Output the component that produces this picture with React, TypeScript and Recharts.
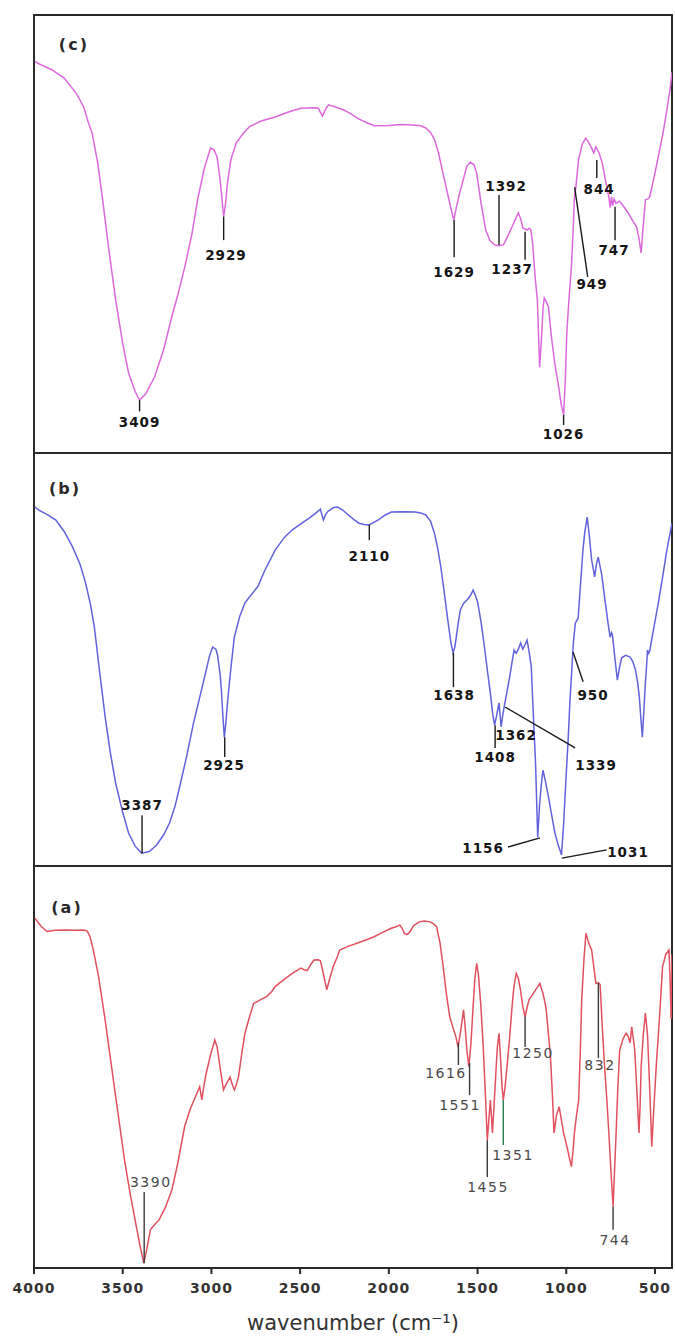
import React from 'react';
import { LineChart, Line, XAxis, YAxis, ReferenceArea, ReferenceLine, ReferenceDot } from 'recharts';

// ---------- data (wavenumber cm-1, relative transmittance %) ----------
type Pt = [number, number];

const WN_MIN = 404;
const WN_MAX = 4000;
const xTicks = [4000, 3500, 3000, 2500, 2000, 1500, 1000, 500];
const xAxisTitle = 'wavenumber (cm⁻¹)';

const spectrumC: Pt[] = [
  [3995, 89.5], [3980, 89], [3900, 87.5], [3830, 85.6], [3760, 82], [3720, 79], [3690, 75], [3672, 73], [3640, 66],
  [3613, 57.8], [3580, 47], [3540, 35], [3500, 25], [3467, 18.3], [3430, 14], [3405, 12.1], [3370, 13.5], [3320, 17.4],
  [3270, 23.5], [3224, 31], [3190, 36], [3150, 42.5], [3110, 50], [3078, 57.8], [3040, 65], [3005, 69.6], [2985, 69.2],
  [2968, 67.6], [2950, 62], [2931, 54], [2920, 57], [2910, 61.6], [2890, 67], [2860, 70.8], [2820, 73], [2785, 74.5],
  [2720, 75.8], [2641, 76.7], [2570, 77.8], [2497, 78.7], [2420, 78.8], [2398, 78.7], [2374, 76.9], [2355, 78.6],
  [2340, 79.5], [2300, 79], [2254, 78.3], [2215, 77.5], [2180, 76.5], [2130, 75.5], [2083, 74.7], [2000, 74.8],
  [1930, 75], [1865, 74.9], [1820, 74.7], [1792, 74.2], [1765, 73.2], [1742, 71.5], [1720, 68.5], [1695, 63.9],
  [1665, 58.5], [1645, 55], [1634, 53.2], [1620, 56], [1600, 59.5], [1580, 62.5], [1560, 65.5], [1540, 66.4],
  [1520, 65.8], [1505, 63.9], [1480, 57], [1454, 50.9], [1430, 48.5], [1403, 47.5], [1380, 47.3], [1354, 47.5],
  [1330, 49.5], [1306, 51.6], [1285, 53.5], [1270, 54.8], [1257, 53.5], [1245, 51.4], [1235, 51.2], [1220, 50.9],
  [1210, 51.3], [1200, 51], [1190, 48], [1175, 40], [1163, 35], [1150, 19.6], [1140, 26], [1130, 33.5], [1124, 35.4],
  [1112, 34.5], [1100, 33.3], [1085, 27], [1065, 20.5], [1040, 14.4], [1028, 11], [1015, 8.7], [1006, 16], [997, 27.4],
  [985, 35], [971, 42.5], [960, 52], [954, 58.4], [945, 61], [931, 66.9], [910, 70.5], [890, 71.9], [875, 71],
  [857, 69.6], [845, 68.5], [833, 69.9], [815, 68.5], [797, 66.2], [780, 62.5], [760, 58.4], [752, 56], [745, 58.5],
  [738, 56.5], [730, 58], [720, 57], [700, 57.5], [680, 56.5], [651, 54.8], [625, 53], [603, 51.6], [590, 49],
  [578, 45.7], [570, 50], [554, 57.8], [540, 58], [530, 58.4], [505, 63], [481, 67.6], [455, 73], [433, 78.3],
  [415, 83], [404, 87],
];

const spectrumB: Pt[] = [
  [3995, 87], [3975, 86.2], [3930, 85.2], [3878, 83.8], [3830, 81], [3782, 77.2], [3740, 73], [3709, 68.5], [3680, 63],
  [3660, 57.9], [3630, 47], [3599, 36.1], [3570, 27.5], [3540, 20.1], [3500, 13], [3467, 8], [3430, 4.8], [3393, 3.1],
  [3350, 3.5], [3309, 5.1], [3270, 7.5], [3236, 10.4], [3205, 14.5], [3174, 20.1], [3140, 26.5], [3101, 34.6],
  [3065, 41], [3029, 47.5], [3010, 51], [2993, 53], [2975, 52.5], [2965, 51], [2950, 46], [2944, 42.6], [2935, 36],
  [2927, 31.2], [2918, 35], [2908, 40.2], [2890, 48], [2871, 55.4], [2840, 60.5], [2811, 63.7], [2770, 66],
  [2739, 67.6], [2700, 71.5], [2641, 76.5], [2590, 79.5], [2544, 81.4], [2490, 83], [2447, 84.3], [2410, 85.5],
  [2386, 86.4], [2369, 83.8], [2355, 85.2], [2340, 86], [2310, 86.8], [2289, 86.9], [2260, 86.2], [2228, 85],
  [2195, 83.8], [2168, 83], [2140, 82.7], [2112, 82.6], [2085, 83.2], [2059, 83.8], [2020, 85], [1986, 85.7],
  [1920, 85.8], [1852, 85.7], [1820, 85.5], [1792, 85], [1765, 83.5], [1743, 80.6], [1725, 77], [1707, 72.4],
  [1690, 67], [1670, 60.3], [1650, 54], [1638, 51.6], [1628, 53], [1620, 55.4], [1610, 58.5], [1597, 62],
  [1580, 63.5], [1560, 64.4], [1540, 65.5], [1525, 66.8], [1512, 65.5], [1500, 64], [1480, 59], [1464, 54],
  [1445, 47.5], [1428, 41.9], [1415, 37], [1404, 34.1], [1392, 36.5], [1379, 39.5], [1367, 33.7], [1358, 36.5],
  [1350, 38.5], [1335, 42], [1319, 45.8], [1305, 49.5], [1294, 52.3], [1282, 51.5], [1270, 52.5], [1257, 54],
  [1245, 52.5], [1233, 53.5], [1221, 54.7], [1210, 52], [1197, 48.2], [1185, 36], [1173, 24.9], [1161, 7],
  [1150, 15], [1140, 20], [1131, 23.2], [1115, 20], [1100, 16.7], [1085, 13], [1064, 8], [1045, 5], [1027, 2.7],
  [1015, 10], [1003, 20.1], [990, 30], [979, 40.2], [968, 48], [960, 54], [949, 58.8], [933, 60], [920, 68],
  [906, 76.5], [895, 81], [882, 84.5], [870, 80], [857, 74.1], [848, 72], [840, 70], [830, 73], [820, 74.8],
  [800, 70.5], [784, 65.1], [765, 59], [753, 55.4], [745, 56.5], [740, 56], [725, 50], [712, 45], [700, 48],
  [688, 50.4], [665, 51], [640, 50.6], [625, 49.5], [610, 47.5], [598, 44.5], [588, 40.9], [580, 36], [571, 31.2],
  [562, 38], [554, 44.3], [548, 48], [542, 52.3], [536, 51.5], [530, 52], [505, 58], [481, 63.7], [455, 70.5],
  [433, 76.5], [415, 80.5], [404, 83],
];

const spectrumA: Pt[] = [
  [3995, 87], [3988, 86.6], [3960, 85], [3927, 83.7], [3880, 84], [3830, 84.1], [3770, 84], [3720, 84.1], [3700, 83.8],
  [3684, 82.4], [3665, 79], [3636, 72.5], [3600, 62], [3563, 50.1], [3525, 38], [3490, 26.9], [3460, 19], [3430, 11.9],
  [3405, 6], [3381, 1.2], [3365, 4.5], [3344, 9.5], [3320, 10.8], [3296, 11.9], [3260, 15], [3223, 19.4], [3190, 26],
  [3151, 35.2], [3120, 39.5], [3090, 42.6], [3066, 45.1], [3054, 41.8], [3040, 46], [3029, 48.5], [3005, 53],
  [2981, 56.7], [2968, 55], [2957, 51.7], [2945, 48], [2932, 44.3], [2920, 45.5], [2909, 46.3], [2895, 47.5],
  [2885, 46], [2871, 44.3], [2860, 45.5], [2847, 47.6], [2830, 53], [2811, 58.4], [2785, 62.5], [2762, 65.8],
  [2720, 66.8], [2689, 67.5], [2660, 68.8], [2641, 70], [2590, 71.8], [2544, 73.3], [2496, 74.6], [2478, 74.2],
  [2460, 74], [2440, 75.5], [2422, 76.6], [2400, 76.7], [2386, 76.5], [2368, 73], [2350, 69.2], [2330, 72.5],
  [2313, 75], [2290, 77.5], [2277, 79.1], [2230, 80], [2180, 80.8], [2130, 81.6], [2083, 82.4], [2035, 83.5],
  [1986, 84.5], [1960, 84.9], [1938, 85.3], [1925, 84.5], [1913, 83.3], [1900, 83], [1890, 83.2], [1875, 84],
  [1865, 84.9], [1850, 85.5], [1829, 86.1], [1800, 86.3], [1767, 86.1], [1748, 85.6], [1731, 84.9], [1712, 81],
  [1694, 75], [1675, 68], [1657, 62.5], [1640, 60], [1622, 57.5], [1610, 55], [1595, 59], [1579, 64.2], [1570, 60],
  [1560, 54], [1549, 50.1], [1537, 56], [1525, 65], [1515, 72], [1505, 75.8], [1495, 73], [1481, 65], [1468, 55],
  [1456, 43.5], [1445, 31.8], [1436, 37], [1428, 41.8], [1422, 38], [1416, 33.6], [1405, 42], [1395, 50], [1388, 55],
  [1379, 58.4], [1370, 52], [1362, 45], [1355, 41.8], [1345, 45], [1330, 52], [1318, 58], [1307, 64.2], [1295, 70],
  [1282, 73.3], [1270, 72], [1258, 69.2], [1245, 65], [1232, 62.5], [1220, 65], [1210, 66.7], [1190, 68],
  [1173, 69.2], [1160, 70], [1149, 70.8], [1140, 69.5], [1132, 68.4], [1120, 66], [1113, 64.2], [1100, 58],
  [1089, 52.6], [1078, 43], [1069, 33.6], [1055, 38], [1040, 40.1], [1028, 37], [1015, 33.6], [996, 30.2],
  [983, 27.5], [971, 25.2], [962, 29], [954, 33.6], [942, 38], [930, 41.8], [920, 55], [913, 66.7], [900, 77],
  [889, 83.3], [875, 81], [857, 79.1], [845, 75], [833, 70.8], [820, 71], [809, 70.5], [797, 60], [784, 50.1],
  [770, 41], [760, 33.6], [748, 24], [736, 15.3], [728, 24], [719, 33.6], [710, 44], [699, 54.2], [680, 57],
  [663, 58.4], [650, 57.5], [640, 56], [631, 60], [622, 57], [614, 54.2], [602, 44], [590, 33.6], [584, 40],
  [578, 50], [566, 58], [554, 63.4], [542, 58], [530, 45], [518, 30.2], [506, 40], [493, 50.1], [475, 62],
  [457, 75], [439, 78], [421, 79.1], [415, 72], [409, 62], [404, 78],
];

// peak annotations: label text, leader line (from -> to) and label anchor, in data units
type Peak = { text: string; from?: Pt; to?: Pt; at: Pt; tone?: string };

const peaksC: Peak[] = [
  { text: '3409', from: [3405, 12.1], to: [3405, 9.5], at: [3405, 7.1] },
  { text: '2929', from: [2931, 54], to: [2931, 48.6], at: [2918, 45.2] },
  { text: '1629', from: [1632, 53.2], to: [1632, 44.7], at: [1632, 41.4] },
  { text: '1392', from: [1379, 58.9], to: [1379, 47.5], at: [1339, 60.9] },
  { text: '1237', from: [1232, 50.5], to: [1232, 44.1], at: [1305, 42] },
  { text: '1026', from: [1015, 8.7], to: [1015, 6.4], at: [1015, 4.4] },
  { text: '844', from: [828, 66.9], to: [828, 62.8], at: [815, 60.3] },
  { text: '949', from: [953, 60.7], to: [879, 40.2], at: [855, 38.6] },
  { text: '747', from: [725, 56.2], to: [725, 48.6], at: [731, 46.3] },
];

const peaksB: Peak[] = [
  { text: '2110', from: [2110, 82.6], to: [2110, 78.9], at: [2110, 75.1] },
  { text: '3387', from: [3391, 3.1], to: [3391, 12.3], at: [3391, 14.8] },
  { text: '2925', from: [2925, 31.2], to: [2925, 26.4], at: [2929, 24.5] },
  { text: '1638', from: [1636, 51.6], to: [1636, 43.3], at: [1632, 41.4] },
  { text: '1408', from: [1401, 34.1], to: [1401, 28.6], at: [1401, 26.4] },
  { text: '1362', at: [1283, 31.7] },
  { text: '1339', from: [1345, 38.5], to: [950, 28.6], at: [832, 24.5] },
  { text: '1156', from: [1328, 4.6], to: [1148, 6.8], at: [1469, 4.4] },
  { text: '1031', from: [1025, 1.9], to: [772, 3.9], at: [652, 3.4] },
  { text: '950', from: [962, 51.8], to: [905, 44.6], at: [849, 41.4] },
];

const peaksA: Peak[] = [
  { text: '3390', from: [3379, 1.2], to: [3379, 18.9], at: [3342, 21.4] },
  { text: '1616', from: [1608, 56], to: [1608, 50.5], at: [1678, 48.5] },
  { text: '1551', from: [1545, 51], to: [1545, 43], at: [1599, 40.5] },
  { text: '1455', from: [1445, 31.8], to: [1445, 22.6], at: [1441, 20.1] },
  { text: '1351', from: [1355, 41.8], to: [1355, 30.6], at: [1300, 28.1], tone: '#2f7d55' },
  { text: '1250', from: [1232, 62.5], to: [1232, 55], at: [1187, 53.5] },
  { text: '832', from: [819, 70.9], to: [819, 52.2], at: [810, 50.5] },
  { text: '744', from: [736, 15.3], to: [736, 9.5], at: [725, 7] },
];

// panel tags, placed in data units
const tagC = { text: '(c)', at: [3775, 93.2] as Pt };
const tagB = { text: '(b)', at: [3825, 91.3] as Pt };
const tagA = { text: '(a)', at: [3814, 89.8] as Pt };

// ---------- rendering ----------
const FONT = '"DejaVu Sans", Verdana, sans-serif';
const FRAME = '#2a2a2a';

type PanelProps = {
  series: Pt[];
  color: string;
  peaks: Peak[];
  tag: { text: string; at: Pt };
  top: number;
  height: number;
  margin: { top: number; right: number; bottom: number; left: number };
  showAxis: boolean;
  bold: boolean;
};

function Panel({ series, color, peaks, tag, top, height, margin, showAxis, bold }: PanelProps) {
  const data = series.map(([w, t]) => ({ w, t }));
  const labelFill = bold ? '#151515' : '#4a4a4a';
  const lineStroke = bold ? '#1a1a1a' : '#3a3a3a';
  return (
    <div style={{ position: 'absolute', left: 0, top }}>
      <LineChart width={675} height={height} margin={margin} data={data}>
        <XAxis
          type="number"
          dataKey="w"
          domain={[WN_MIN, WN_MAX]}
          reversed
          allowDataOverflow
          hide={!showAxis}
          ticks={xTicks}
          interval={0}
          height={30}
          axisLine={{ stroke: FRAME, strokeWidth: 2 }}
          tickLine={{ stroke: FRAME, strokeWidth: 2 }}
          tickSize={6}
          tickMargin={2}
          tick={(p: any) => (
            <text
              x={p.x}
              y={p.y + 17}
              textAnchor="middle"
              fontFamily={FONT}
              fontSize={14}
              fontWeight="bold"
              fill="#333"
              letterSpacing={1}
            >
              {p.payload.value}
            </text>
          )}
          label={{
            value: xAxisTitle,
            position: 'bottom',
            offset: 17,
            fontSize: 21,
            fill: '#333',
            fontFamily: FONT,
          }}
        />
        <YAxis type="number" domain={[0, 100]} hide allowDataOverflow />
        <ReferenceArea
          x1={WN_MIN}
          x2={WN_MAX}
          y1={0}
          y2={100}
          fill="none"
          stroke={FRAME}
          strokeWidth={2}
          ifOverflow="visible"
        />
        <Line
          type="linear"
          dataKey="t"
          stroke={color}
          strokeWidth={1.5}
          dot={false}
          activeDot={false}
          isAnimationActive={false}
        />
        {peaks
          .filter((p) => p.from && p.to)
          .map((p) => (
            <ReferenceLine
              key={'l' + p.text}
              segment={[
                { x: p.from![0], y: p.from![1] },
                { x: p.to![0], y: p.to![1] },
              ]}
              stroke={p.tone || lineStroke}
              strokeWidth={1.4}
              ifOverflow="visible"
            />
          ))}
        {peaks.map((p) => (
          <ReferenceDot
            key={'t' + p.text}
            x={p.at[0]}
            y={p.at[1]}
            r={0}
            ifOverflow="visible"
            shape={(s: any) => (
              <text
                x={s.cx}
                y={s.cy}
                textAnchor="middle"
                dominantBaseline="central"
                fontFamily={FONT}
                fontSize={bold ? 13.5 : 14}
                fontWeight={bold ? 'bold' : 'normal'}
                letterSpacing={bold ? 1 : 1.5}
                fill={labelFill}
              >
                {p.text}
              </text>
            )}
          />
        ))}
        <ReferenceDot
          x={tag.at[0]}
          y={tag.at[1]}
          r={0}
          ifOverflow="visible"
          shape={(s: any) => (
            <text
              x={s.cx}
              y={s.cy}
              textAnchor="middle"
              dominantBaseline="central"
              fontFamily={FONT}
              fontSize={16}
              fontWeight="bold"
              letterSpacing={2}
              fill="#2a2a2a"
            >
              {tag.text}
            </text>
          )}
        />
      </LineChart>
    </div>
  );
}

export default function App() {
  return (
    <div style={{ position: 'absolute', left: 0, top: 0, width: 675, height: 1336, background: '#fff' }}>
      <Panel
        series={spectrumC}
        color="#dc68dc"
        peaks={peaksC}
        tag={tagC}
        top={0}
        height={460}
        margin={{ top: 15, right: 3, bottom: 7, left: 34 }}
        showAxis={false}
        bold
      />
      <Panel
        series={spectrumB}
        color="#6262dc"
        peaks={peaksB}
        tag={tagB}
        top={453}
        height={420}
        margin={{ top: 0, right: 3, bottom: 7, left: 34 }}
        showAxis={false}
        bold
      />
      <Panel
        series={spectrumA}
        color="#e0505e"
        peaks={peaksA}
        tag={tagA}
        top={866}
        height={470}
        margin={{ top: 0, right: 3, bottom: 38, left: 34 }}
        showAxis
        bold={false}
      />
    </div>
  );
}
